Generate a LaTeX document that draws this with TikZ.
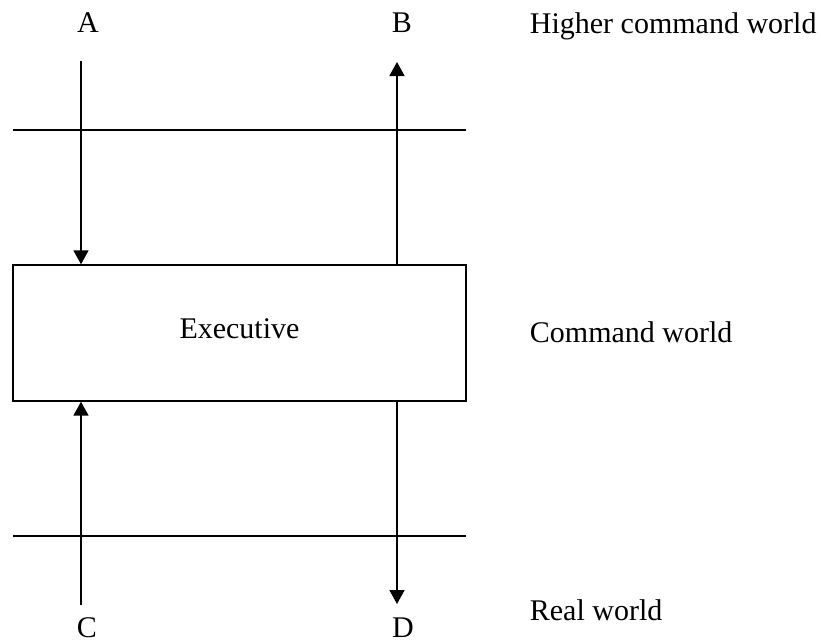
\documentclass[tikz,border=0pt]{standalone}
\usepackage{fontspec}
\setmainfont{Liberation Serif}
\usetikzlibrary{arrows.meta}
\tikzset{
  world/.style={font=\fontsize{15}{18}\selectfont, inner sep=0pt},
  flow/.style={line width=0.9pt, -{Triangle[width=7.5pt,length=7pt]}}
}
\begin{document}
\begin{tikzpicture}[x=0.5pt,y=-0.5pt,line width=0.9pt]
      \useasboundingbox (0,0) rectangle (821,643);
      \node[world, anchor=base] (a) at (88,32) {A};
      \node[world, anchor=base] (b) at (402,32) {B};
      \node[world, anchor=base] (c) at (87,637) {C};
      \node[world, anchor=base] (d) at (403,637) {D};
      \node[world, anchor=base west] (higher) at (529,33) {Higher command world};
      \node[world, anchor=base west] (command) at (529,342) {Command world};
      \node[world, anchor=base west] (real) at (529,620) {Real world};
      \node[world, draw, minimum width=226.5pt, minimum height=67.8pt,
            text height=10pt, text depth=5pt] (exec) at (239.5,333) {Executive};
      \coordinate (atop) at (81,61);
      \coordinate (btop) at (397,62);
      \coordinate (cbot) at (81,605);
      \coordinate (dbot) at (397,604);
      % levels
      \draw (13,130) -- (466,130);
      \draw (13,536) -- (466,536);
      \begin{scope}[flow]
        \draw (atop) to (atop |- exec.north);
        \draw (btop |- exec.north) to (btop);
        \draw (cbot) to (cbot |- exec.south);
        \draw (dbot |- exec.south) to (dbot);
      \end{scope}
    \end{tikzpicture}
\end{document}
